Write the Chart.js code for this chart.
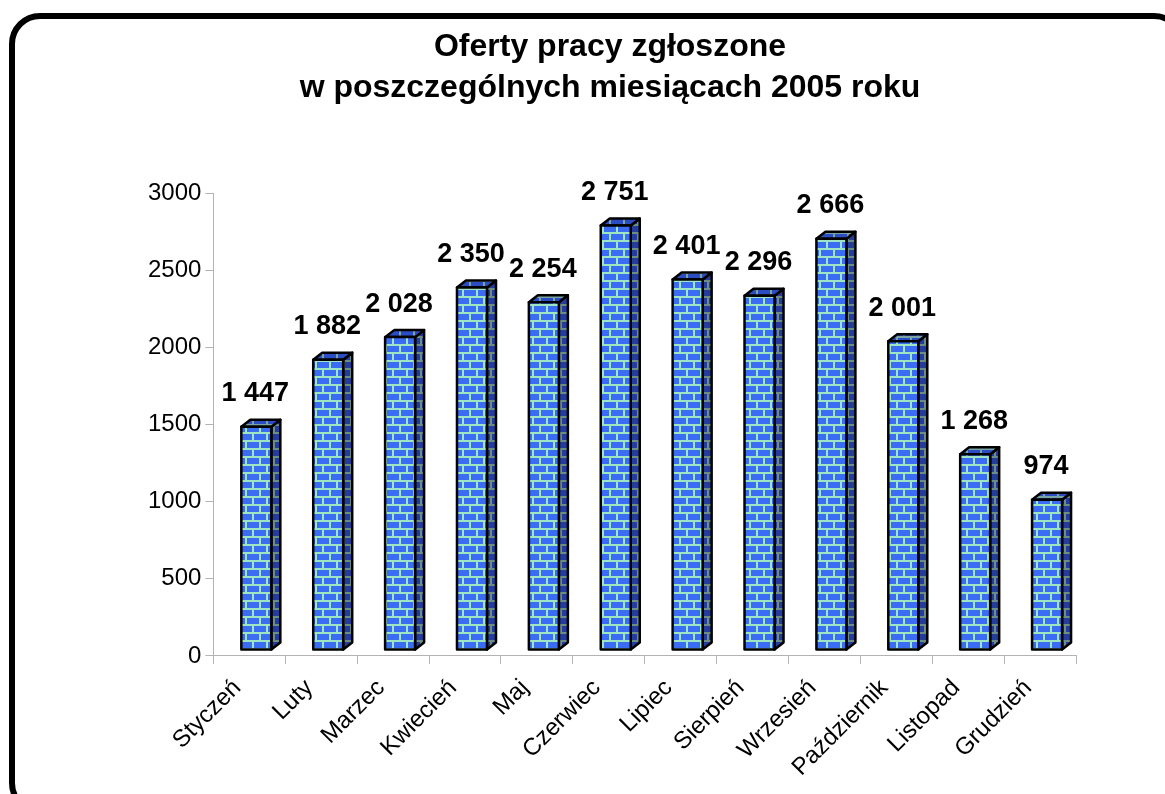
<!DOCTYPE html>
<html>
<head>
<meta charset="utf-8">
<script src="https://cdn.jsdelivr.net/npm/chart.js@4"></script>
<style>
  html, body { margin: 0; padding: 0; background: #fff; }
  #wrap { width: 1165px; height: 794px; position: relative; }
</style>
</head>
<body>
<div id="wrap"><canvas id="myChart" width="1165" height="794"></canvas></div>
<script>
// chart data
const months = ['Styczeń', 'Luty', 'Marzec', 'Kwiecień', 'Maj', 'Czerwiec', 'Lipiec',
                'Sierpień', 'Wrzesień', 'Październik', 'Listopad', 'Grudzień']
const offers = [1447, 1882, 2028, 2350, 2254, 2751, 2401, 2296, 2666, 2001, 1268, 974]
const titleLines = ['Oferty pracy zgłoszone', 'w poszczególnych miesiącach 2005 roku']

const FONT = '"Liberation Sans", Arial, sans-serif'

// brick texture
function makeBricks(brick, mortar){
    const c = document.createElement('canvas')
    c.width = 14
    c.height = 16
    const x = c.getContext('2d')
    x.fillStyle = mortar
    x.fillRect(0, 0, 14, 16)
    x.fillStyle = brick
    x.fillRect(2, 2, 12, 6)
    x.fillRect(0, 10, 7, 6)
    x.fillRect(9, 10, 5, 6)
    return x.createPattern(c, 'repeat')
}

const fmt = v => String(v).replace(/\B(?=(\d{3})+(?!\d))/g, ' ')

const frame = {
    id: 'frame',
    beforeDraw(chart){
        const ctx = chart.ctx
        ctx.save()
        ctx.fillStyle = '#fff'
        ctx.fillRect(0, 0, chart.width, chart.height)
        ctx.lineWidth = 6
        ctx.strokeStyle = '#000'
        ctx.beginPath()
        ctx.roundRect(12, 16, 1170, 795, 28)
        ctx.stroke()
        ctx.restore()
    }
}

const bars3d = {
    id: 'bars3d',
    afterDatasetsDraw(chart){
        const ctx = chart.ctx
        const front = makeBricks('#3a6cf4', '#9ee6c2')
        const side = makeBricks('#233c9e', '#6c8c86')
        const top = makeBricks('#2c4cc4', '#7aa4a4')
        const meta = chart.getDatasetMeta(0)
        const hw = 15, dx = 9, dy = 7, lift = 6
        ctx.save()
        ctx.lineWidth = 2.5
        ctx.lineJoin = 'round'
        ctx.strokeStyle = '#000'
        meta.data.forEach((el, i) => {
            const cx = el.x + 7
            const yt = el.y - lift
            const yb = el.base - lift
            // side
            ctx.beginPath()
            ctx.moveTo(cx + hw, yt)
            ctx.lineTo(cx + hw + dx, yt - dy)
            ctx.lineTo(cx + hw + dx, yb - dy)
            ctx.lineTo(cx + hw, yb)
            ctx.closePath()
            ctx.fillStyle = side
            ctx.fill()
            ctx.stroke()
            // top
            ctx.beginPath()
            ctx.moveTo(cx - hw, yt)
            ctx.lineTo(cx - hw + dx, yt - dy)
            ctx.lineTo(cx + hw + dx, yt - dy)
            ctx.lineTo(cx + hw, yt)
            ctx.closePath()
            ctx.fillStyle = top
            ctx.fill()
            ctx.stroke()
            // front
            ctx.beginPath()
            ctx.rect(cx - hw, yt, hw * 2, yb - yt)
            ctx.fillStyle = front
            ctx.fill()
            ctx.stroke()
            // value label
            ctx.fillStyle = '#000'
            ctx.font = 'bold 27px ' + FONT
            ctx.textAlign = 'center'
            ctx.textBaseline = 'middle'
            ctx.fillText(fmt(offers[i]), el.x + 6, el.y - 39)
        })
        ctx.restore()
    }
}

window.addEventListener('DOMContentLoaded', () => {
    new Chart(document.getElementById('myChart').getContext('2d'), {
        type: 'bar',
        data: {
            labels: months,
            datasets: [{
                data: offers,
                backgroundColor: 'rgba(0,0,0,0)',
                borderWidth: 0,
                barThickness: 30
            }]
        },
        options: {
            responsive: false,
            animation: false,
            layout: { padding: { left: 144, right: 89, top: 0, bottom: 2 } },
            plugins: {
                legend: { display: false },
                tooltip: { enabled: false },
                title: {
                    display: true,
                    text: titleLines,
                    color: '#000',
                    font: { family: FONT, size: 32, weight: 'bold', lineHeight: 1.3 },
                    padding: { top: 26, bottom: 84 }
                }
            },
            scales: {
                x: {
                    grid: { drawOnChartArea: false, color: '#b3b3b3', tickLength: 8, offset: true },
                    border: { color: '#b3b3b3' },
                    ticks: {
                        color: '#000',
                        font: { family: FONT, size: 24 },
                        minRotation: 45,
                        maxRotation: 45,
                        padding: 10,
                        labelOffset: -12
                    }
                },
                y: {
                    min: 0,
                    max: 3000,
                    grid: { drawOnChartArea: false, color: '#b3b3b3', tickLength: 8 },
                    border: { color: '#b3b3b3' },
                    ticks: {
                        stepSize: 500,
                        color: '#000',
                        font: { family: FONT, size: 24 },
                        padding: 4,
                        callback: v => String(v)
                    }
                }
            }
        },
        plugins: [frame, bars3d]
    })
})
</script>
</body>
</html>
